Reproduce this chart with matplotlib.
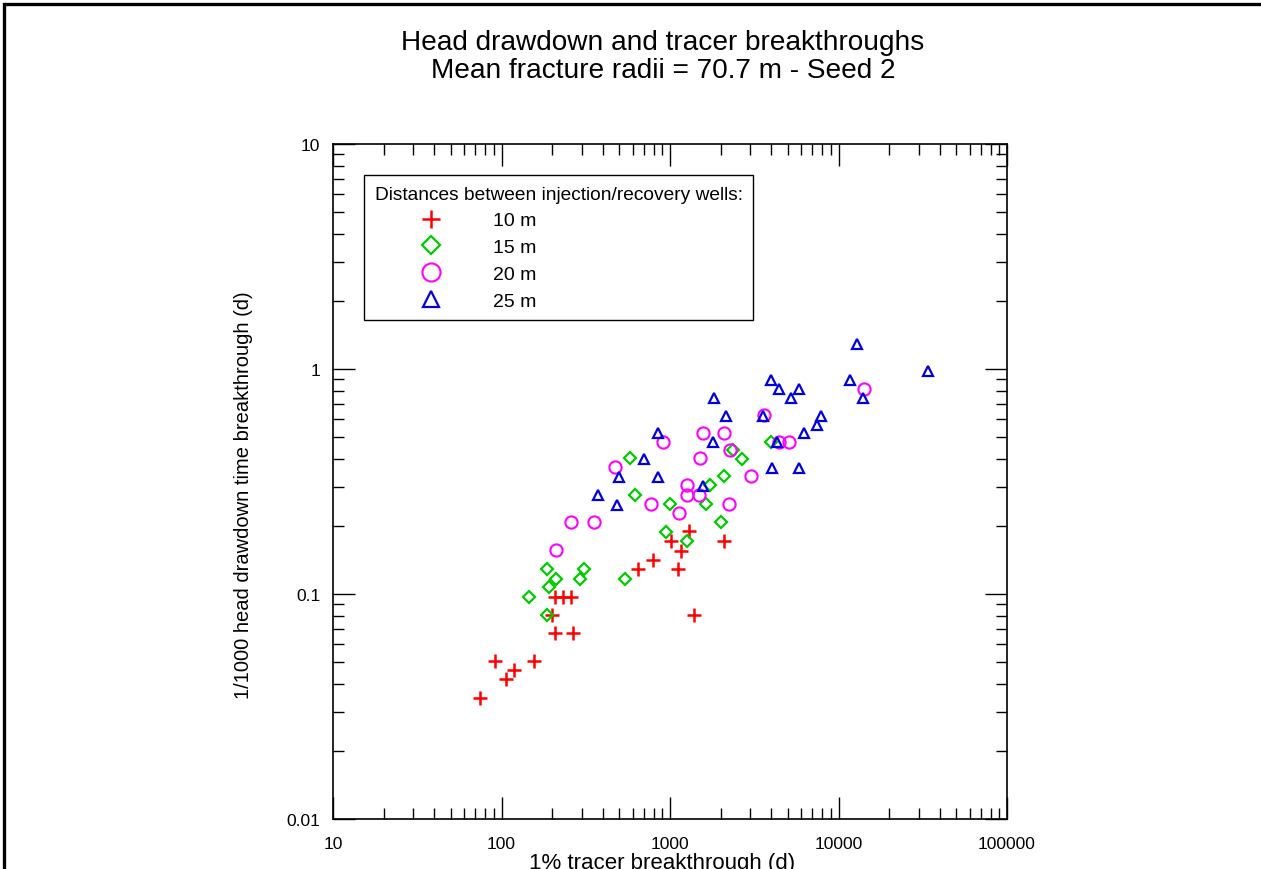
import matplotlib
matplotlib.use("Agg")
import matplotlib.pyplot as plt
from matplotlib.patches import Rectangle
from matplotlib.ticker import LogLocator, NullFormatter, FixedLocator, FixedFormatter

plt.rcParams['font.family'] = ['Liberation Sans', 'DejaVu Sans']

# 1% tracer breakthrough (d) vs 1/1000 head drawdown time breakthrough (d)
x_10m = [1290, 1010, 2080, 1170, 790, 650, 1110, 208, 231, 257,
         199, 207, 265, 1394, 91, 156, 118, 106, 75]
y_10m = [0.19, 0.172, 0.172, 0.156, 0.142, 0.129, 0.129, 0.097, 0.097, 0.097,
         0.0807, 0.0669, 0.0669, 0.0807, 0.0504, 0.0504, 0.046, 0.0418, 0.0346]

x_15m = [581, 2360, 2660, 2090, 1730, 620, 995, 1640, 2010, 947,
         1270, 185, 307, 210, 291, 538, 192, 146, 185, 3960]
y_15m = [0.401, 0.437, 0.40, 0.335, 0.304, 0.276, 0.252, 0.252, 0.208, 0.189,
         0.172, 0.129, 0.129, 0.117, 0.117, 0.117, 0.107, 0.097, 0.0807, 0.475]

x_20m = [909, 1580, 2100, 2270, 474, 1510, 3040, 1256, 1256, 1490,
         771, 2240, 1130, 260, 353, 210, 14100, 3630, 4440, 5080]
y_20m = [0.475, 0.519, 0.519, 0.438, 0.368, 0.401, 0.335, 0.304, 0.276, 0.276,
         0.252, 0.252, 0.229, 0.208, 0.208, 0.157, 0.818, 0.623, 0.475, 0.475]

x_25m = [1820, 2140, 3550, 845, 1810, 704, 496, 845, 1580, 374,
         483, 12800, 33800, 3980, 11700, 4440, 5830, 5200, 14000, 7910,
         7420, 6220, 4330, 4030, 5850]
y_25m = [0.743, 0.618, 0.618, 0.518, 0.474, 0.398, 0.332, 0.332, 0.303, 0.275,
         0.249, 1.29, 0.977, 0.894, 0.894, 0.8125, 0.8125, 0.741, 0.741, 0.618,
         0.564, 0.518, 0.475, 0.364, 0.364]

labels = ['10 m', '15 m', '20 m', '25 m']

fig = plt.figure(figsize=(12.61, 8.70), dpi=100)
ax = fig.add_axes([333 / 1261, 50 / 870, 674 / 1261, 675 / 870])

ax.plot(x_10m, y_10m, ls='none', marker='+', ms=9.5, mew=1.8, color='#ff0000', label=labels[0])
ax.plot(x_15m, y_15m, ls='none', marker='D', ms=6.2, mew=1.6, mfc='none', mec='#00cc00', label=labels[1])
ax.plot(x_20m, y_20m, ls='none', marker='o', ms=8.8, mew=1.5, mfc='none', mec='#ff00ff', label=labels[2])
ax.plot(x_25m, y_25m, ls='none', marker='^', ms=7.8, mew=1.6, mfc='none', mec='#0000dd', label=labels[3])

ax.set_xscale('log')
ax.set_yscale('log')
ax.set_xlim(10, 100000)
ax.set_ylim(0.01, 10)

xt = [10, 100, 1000, 10000, 100000]
yt = [0.01, 0.1, 1, 10]
ax.xaxis.set_major_locator(FixedLocator(xt))
ax.xaxis.set_major_formatter(FixedFormatter([str(v) for v in xt]))
ax.yaxis.set_major_locator(FixedLocator(yt))
ax.yaxis.set_major_formatter(FixedFormatter(['0.01', '0.1', '1', '10']))
for a in (ax.xaxis, ax.yaxis):
    a.set_minor_locator(LogLocator(base=10, subs=range(2, 10), numticks=20))
    a.set_minor_formatter(NullFormatter())

ax.tick_params(which='both', direction='in', top=True, right=True, width=1.0,
               color='black', labelsize=12.5)
ax.tick_params(axis='x', which='both', pad=12)
ax.tick_params(axis='y', which='both', pad=9)
ax.tick_params(which='major', length=16)
ax.tick_params(which='minor', length=8)
for s in ax.spines.values():
    s.set_linewidth(1.2)

ax.set_xlabel('1% tracer breakthrough (d)', fontsize=16)
ax.xaxis.set_label_coords(0.488, -0.0495)
ax.set_ylabel('1/1000 head drawdown time breakthrough (d)', fontsize=14.5)
ax.yaxis.set_label_coords(-0.118, 0.4815)

fig.text(663 / 1261, 1 - 57 / 870, 'Head drawdown and tracer breakthroughs\nMean fracture radii = 70.7 m - Seed 2',
         ha='center', va='center', fontsize=20.2, linespacing=1.12)

leg = ax.legend(loc='upper left', bbox_to_anchor=(31 / 674, 1 - 31 / 675),
                title='Distances between injection/recovery wells:', title_fontsize=13.8,
                fontsize=14, alignment='left', frameon=True, fancybox=False,
                edgecolor='black', framealpha=1, borderpad=0.55, labelspacing=0.47,
                handlelength=5.75, handletextpad=0.33, borderaxespad=0)
leg.get_frame().set_linewidth(1.0)
for h, s in zip(leg.legend_handles, [13, 9, 13, 11.5]):
    h.set_markersize(s)

# page frame
fig.patches.append(Rectangle((4 / 1261, -0.1), 1.2, 1.1 - 4.5 / 870, transform=fig.transFigure,
                             fill=False, lw=2.4, edgecolor='black'))

fig.savefig('out.png', dpi=100)
